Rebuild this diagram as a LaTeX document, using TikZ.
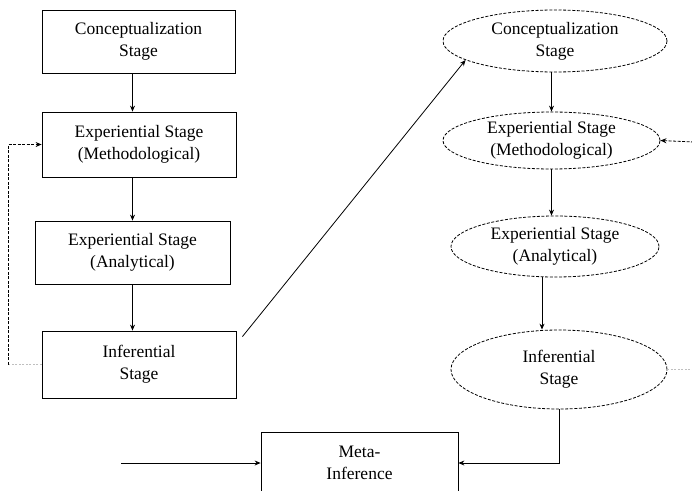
\documentclass[tikz,border=0pt]{standalone}
\usepackage{fontspec}
\newfontfamily\stagefont{LiberationSerif}[Extension=.ttf,UprightFont=*-Regular]
\usetikzlibrary{arrows.meta,shapes.geometric}

\begin{document}
\begin{tikzpicture}[x=1pt,y=-1pt,
      mybox/.style={
         rectangle,
         draw=black,
         line width=0.8pt,
         align=center,
         inner sep=0pt,
         font=\stagefont\fontsize{17.5}{22}\selectfont},
      myellipse/.style={
         ellipse,
         draw=black,
         line width=0.8pt,
         dash pattern=on 3pt off 1.6pt,
         align=center,
         inner sep=0pt,
         font=\stagefont\fontsize{17.5}{22}\selectfont},
      myarrow/.style={-{Stealth[length=6pt,width=5pt]}, line width=0.8pt}
      ]
      \useasboundingbox (0,0) rectangle (692,490);

      % left column
      \node[mybox, minimum width=193pt, minimum height=63pt] (b1) at (138.5,41.5) {Conceptualization\\Stage};
      \node[mybox, minimum width=194pt, minimum height=65pt] (b2) at (139,144.5) {Experiential Stage\\(Methodological)};
      \node[mybox, minimum width=195pt, minimum height=63pt] (b3) at (132.5,252.5) {Experiential Stage\\(Analytical)};
      \node[mybox, minimum width=194pt, minimum height=67pt] (b4) at (139,364.5) {Inferential\\Stage};

      % right column
      \node[myellipse, minimum width=224pt, minimum height=62pt] (e1) at (555,41) {Conceptualization\\Stage};
      \node[myellipse, minimum width=217pt, minimum height=57pt] (e2) at (551.5,140.5) {Experiential Stage\\(Methodological)};
      \node[myellipse, minimum width=208pt, minimum height=61pt] (e3) at (555,246.5) {Experiential Stage\\(Analytical)};
      \node[myellipse, minimum width=216pt, minimum height=79pt] (e4) at (559,369.5) {Inferential\\Stage};

      \node[mybox, minimum width=197pt, minimum height=62pt] (meta) at (359.5,463) {Meta-\\Inference};

      \coordinate (fb) at (8,364.5);
      \coordinate (rin) at (694,142);
      \coordinate (rout) at (694,369.5);
      \coordinate (min) at (121,463);

\draw[myarrow] (b1.south -| b3) -- (b2.north -| b3);
\draw[myarrow] (b2.south -| b3) -- (b3.north);
\draw[myarrow] (b3.south) -- (b4.north -| b3);
%
\draw[myarrow] (e1.south -| e2) -- (e2.north);
\draw[myarrow] (e2.south) -- (e2.south |- e3.north);
\draw[myarrow] ([xshift=-13pt]e3.south) -- ([xshift=-13pt]e3.south |- e4.north);
%
\draw[gray!50, line width=0.8pt, dash pattern=on 2pt off 1.5pt] (b4.west) -- (fb);
\draw[myarrow, dash pattern=on 3pt off 1.5pt] (fb) |- (b2.west);
\draw[myarrow, dash pattern=on 3pt off 1.5pt] (rin) -- (e2.east);
\draw[gray!50, line width=0.8pt, dash pattern=on 2pt off 1.5pt] (e4.east) -- (rout);
%
\draw[myarrow] ([xshift=6pt,yshift=-6pt]b4.north east) -- (e1.192);
\draw[myarrow] (e4.south) |- (meta.east);
\draw[myarrow] (min) -- (meta.west);

    \end{tikzpicture}
\end{document}
